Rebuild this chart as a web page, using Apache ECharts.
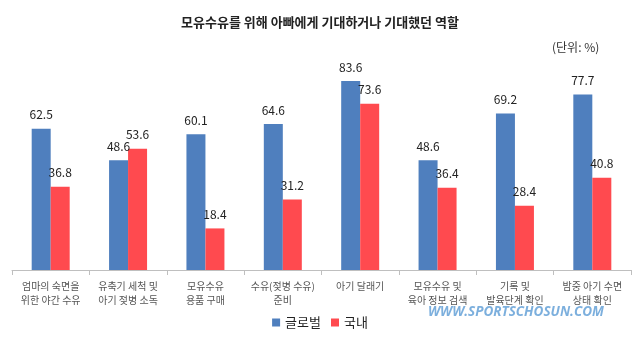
<!DOCTYPE html>
<html><head><meta charset="utf-8">
<style>html,body{margin:0;padding:0;background:#fff}#c{width:640px;height:342px}</style>
<script src="https://cdn.jsdelivr.net/npm/echarts@6/dist/echarts.min.js"></script>
</head><body><div id="c"></div>
<script>
const categories = [
  '엄마의 숙면을\n위한 야간 수유',
  '유축기 세척 및\n아기 젖병 소독',
  '모유수유\n용품 구매',
  '수유(젖병 수유)\n준비',
  '아기 달래기',
  '모유수유 및\n육아 정보 검색',
  '기록 및\n발육단계 확인',
  '밤중 아기 수면\n상태 확인'
];
const globalValues = [62.5, 48.6, 60.1, 64.6, 83.6, 48.6, 69.2, 77.7];
const koreaValues  = [36.8, 53.6, 18.4, 31.2, 73.6, 36.4, 28.4, 40.8];
const seriesNames = ['글로벌', '국내'];

const FONT = '"Noto Sans CJK KR", "Noto Sans", sans-serif';
const chart = echarts.init(document.getElementById('c'));
const labelStyle = { show: true, position: 'top', color: '#222', fontSize: 12, fontFamily: FONT, distance: 8 };
chart.setOption({
  animation: false,
  textStyle: { fontFamily: FONT },
  title: [
    { text: '모유수유를 위해 아빠에게 기대하거나 기대했던 역할', left: 'center', top: 11,
      textStyle: { fontSize: 13, fontWeight: 'bold', color: '#222', fontFamily: FONT } },
    { text: '(단위: %)', left: 547, top: 36,
      textStyle: { fontSize: 12, fontWeight: 'normal', color: '#333', fontFamily: FONT } }
  ],
  legend: {
    data: seriesNames, bottom: 8, left: 'center', itemWidth: 8, itemHeight: 8, itemGap: 10,
    icon: 'rect', textStyle: { fontSize: 13, color: '#222', fontFamily: FONT }
  },
  grid: { left: 12, right: 9, top: 44, bottom: 72 },
  xAxis: {
    type: 'category', data: categories,
    axisLine: { lineStyle: { color: '#bfbfbf' } },
    axisTick: { show: true, length: 5, lineStyle: { color: '#bfbfbf' } },
    axisLabel: { interval: 0, fontSize: 10, color: '#555', lineHeight: 14, margin: 9, fontFamily: FONT }
  },
  yAxis: { type: 'value', min: 0, max: 100, show: false, splitLine: { show: false } },
  series: [
    { name: seriesNames[0], type: 'bar', data: globalValues, barWidth: 19, barGap: '0%',
      itemStyle: { color: '#4F7FBE' }, label: labelStyle },
    { name: seriesNames[1], type: 'bar', data: koreaValues, barWidth: 19,
      itemStyle: { color: '#FF4A4F' }, label: labelStyle }
  ],
  graphic: [
    { type: 'text', left: 428, top: 305,
      style: { text: 'WWW.SPORTSCHOSUN.COM', fill: '#5B9BD5', opacity: 0.8,
               font: 'italic bold 13.5px "Open Sans", sans-serif' } }
  ]
});
</script></body></html>
